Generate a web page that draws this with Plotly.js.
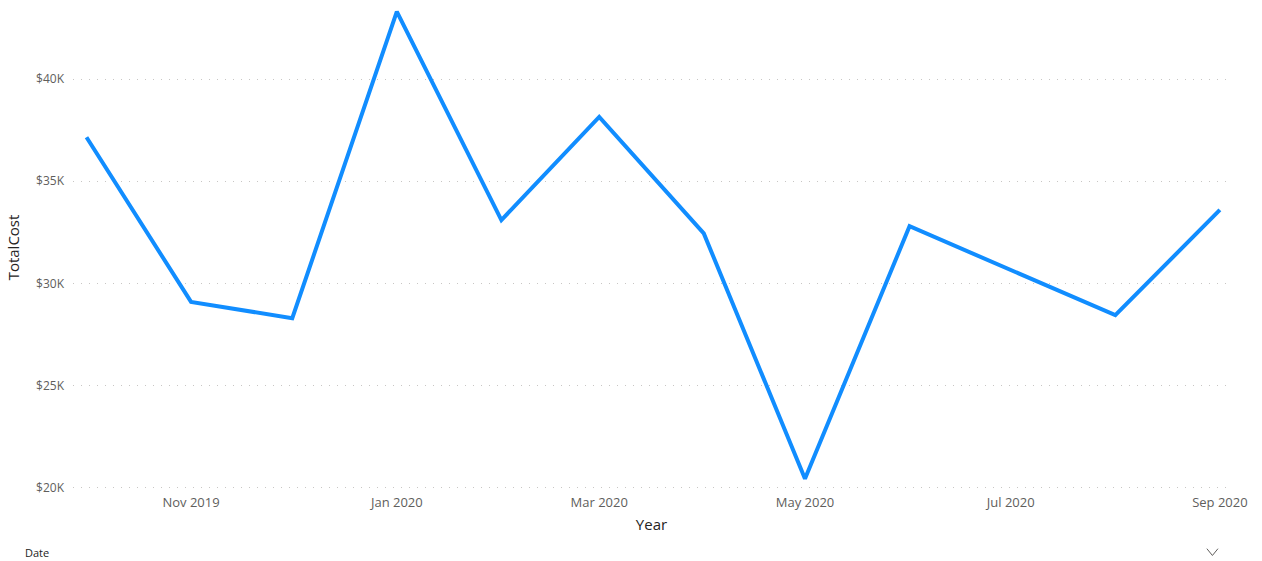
<!DOCTYPE html>
<html><head><meta charset="utf-8">
<script src="https://cdn.plot.ly/plotly-3.0.1.min.js"></script>
<style>html,body{margin:0;padding:0;background:#fff;}#chart{width:1262px;height:561px;}</style>
</head><body><div id="chart"></div>
<script>
const months = ['2019-10-01','2019-11-01','2019-12-01','2020-01-01','2020-02-01','2020-03-01','2020-04-01','2020-05-01','2020-06-01','2020-07-01','2020-08-01','2020-09-01'];
const totalCost = [37150, 29100, 28300, 43300, 33100, 38150, 32450, 20450, 32800, 30650, 28450, 33600];
const yTickVals = [20000, 25000, 30000, 35000, 40000];
const yTickText = ['$20K', '$25K', '$30K', '$35K', '$40K'];
const xTickVals = ['2019-11-01','2020-01-01','2020-03-01','2020-05-01','2020-07-01','2020-09-01'];
const xTickText = ['Nov 2019','Jan 2020','Mar 2020','May 2020','Jul 2020','Sep 2020'];

const font = '"Segoe UI", "Open Sans", sans-serif';
Plotly.newPlot('chart', [{
  x: months, y: totalCost, type: 'scatter', mode: 'lines',
  line: {color: '#118DFF', width: 4}, hoverinfo: 'x+y'
}], {
  width: 1262, height: 561,
  margin: {l: 73, r: 32, t: 5, b: 71},
  paper_bgcolor: '#fff', plot_bgcolor: '#fff',
  showlegend: false,
  font: {family: font, color: '#605E5C', size: 12},
  xaxis: {
    type: 'date', range: ['2019-09-27', '2020-09-04'],
    tickvals: xTickVals, ticktext: xTickText,
    showgrid: false, zeroline: false, showline: false, ticks: '', ticklabelstandoff: 3,
    tickfont: {family: font, size: 13, color: '#605E5C'},
    title: {text: 'Year', font: {family: font, size: 15, color: '#252423'}, standoff: 9}
  },
  yaxis: {
    range: [19900, 43620],
    tickvals: yTickVals, ticktext: yTickText,
    showgrid: true, gridcolor: '#C8C6C4', griddash: '1px,7px', gridwidth: 1,
    zeroline: false, showline: false, ticks: '', ticklabelstandoff: 8,
    tickfont: {family: font, size: 12, color: '#605E5C'},
    title: {text: 'TotalCost', font: {family: font, size: 15, color: '#252423'}, standoff: 12}
  },
  annotations: [{
    text: 'Date', xref: 'paper', yref: 'paper', x: -0.043, y: -0.128,
    xanchor: 'left', yanchor: 'middle', showarrow: false,
    font: {family: font, size: 11, color: '#252423'}
  }],
  shapes: [{
    type: 'path', xref: 'paper', yref: 'paper',
    path: 'M 0.980 -0.121 L 0.9848 -0.135 L 0.9896 -0.121',
    line: {color: '#605E5C', width: 1}
  }]
}, {displayModeBar: false, staticPlot: true});
</script></body></html>
